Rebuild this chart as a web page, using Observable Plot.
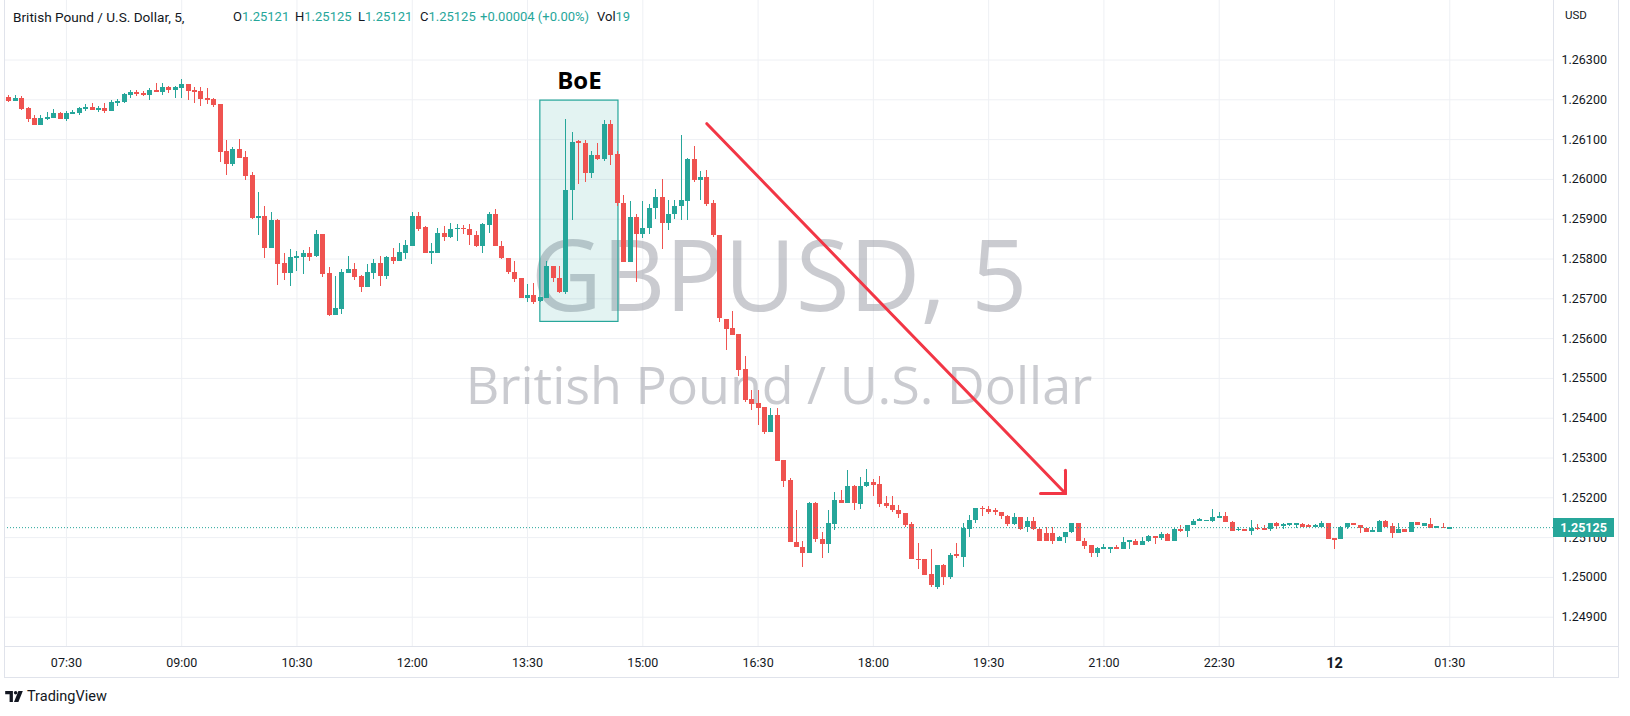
<!DOCTYPE html>
<html><head><meta charset="utf-8">
<script src="https://cdn.jsdelivr.net/npm/d3@7"></script>
<script src="https://cdn.jsdelivr.net/npm/@observablehq/plot@0.6"></script>
<style>
body{margin:0;background:#fff;font-family:Roboto,"Liberation Sans",sans-serif;color:#131722;}
#wrap{position:relative;width:1630px;height:716px;overflow:hidden;background:#fff;}
#wrap > svg{position:absolute;left:0;top:0;}
.g{color:#26a69a;}
</style></head><body><div id="wrap"></div>
<script>
// ---- data (GBPUSD, 5-minute candles) ----
const startTime = "2023-05-11T06:45:00Z";
const intervalMinutes = 5;
const opens = [1.26205,1.26196,1.26203,1.26178,1.26153,1.26136,1.26151,1.26153,1.26166,1.26151,
1.26164,1.26166,1.26176,1.26181,1.26173,1.26178,1.26171,1.26191,1.26193,1.26211,
1.26218,1.26216,1.26211,1.26223,1.26218,1.26231,1.26223,1.26228,1.26238,1.26223,
1.26221,1.26203,1.26201,1.26188,1.26071,1.26038,1.26076,1.26056,1.26011,1.25901,
1.25908,1.25826,1.25896,1.25788,1.25763,1.25801,1.25803,1.25813,1.25806,1.25861,
1.25763,1.25658,1.25673,1.25763,1.25773,1.25756,1.25728,1.25763,1.25788,1.25756,
1.25803,1.25793,1.25813,1.25831,1.25906,1.25880,1.25815,1.25815,1.25863,1.25855,
1.25875,1.25876,1.25875,1.25860,1.25831,1.25884,1.25913,1.25831,1.25801,1.25767,
1.25750,1.25701,1.25708,1.25694,1.25701,1.25780,1.25752,1.25716,1.25971,1.26094,
1.26090,1.26016,1.26061,1.26051,1.26138,1.26062,1.25940,1.25790,1.25905,1.25861,
1.25877,1.25927,1.25955,1.25890,1.25911,1.25933,1.25944,1.26050,1.25996,1.26004,
1.25940,1.25860,1.25648,1.25625,1.25611,1.25523,1.25446,1.25436,1.25427,1.25364,
1.25406,1.25294,1.25244,1.25088,1.25075,1.25059,1.25186,1.25096,1.25082,1.25134,
1.25194,1.25185,1.25228,1.25184,1.25228,1.25238,1.25234,1.25186,1.25181,1.25169,
1.25161,1.25134,1.25046,1.25044,1.25008,1.24975,1.25029,1.25000,1.25056,1.25051,
1.25120,1.25143,1.25174,1.25171,1.25167,1.25163,1.25153,1.25132,1.25150,1.25126,
1.25141,1.25120,1.25110,1.25110,1.25091,1.25100,1.25112,1.25135,1.25090,1.25079,
1.25061,1.25071,1.25071,1.25074,1.25071,1.25088,1.25091,1.25081,1.25090,1.25101,
1.25099,1.25108,1.25089,1.25121,1.25116,1.25130,1.25141,1.25141,1.25141,1.25149,
1.25153,1.25139,1.25118,1.25120,1.25116,1.25124,1.25122,1.25120,1.25135,1.25130,
1.25131,1.25131,1.25133,1.25129,1.25126,1.25126,1.25135,1.25097,1.25095,1.25125,
1.25135,1.25131,1.25124,1.25115,1.25114,1.25141,1.25128,1.25111,1.25120,1.25113,
1.25137,1.25130,1.25132,1.25124,1.25126,1.25121];
const highs = [1.26210,1.26210,1.26208,1.26181,1.26161,1.26160,1.26168,1.26176,1.26168,1.26171,
1.26173,1.26181,1.26188,1.26191,1.26183,1.26191,1.26198,1.26201,1.26216,1.26223,
1.26223,1.26221,1.26228,1.26241,1.26241,1.26233,1.26233,1.26251,1.26238,1.26231,
1.26231,1.26228,1.26203,1.26188,1.26098,1.26081,1.26101,1.26071,1.26018,1.25968,
1.25931,1.25916,1.25898,1.25813,1.25823,1.25818,1.25821,1.25828,1.25871,1.25861,
1.25778,1.25756,1.25773,1.25806,1.25788,1.25758,1.25786,1.25798,1.25806,1.25806,
1.25826,1.25838,1.25846,1.25918,1.25916,1.25881,1.25838,1.25877,1.25881,1.25890,
1.25886,1.25884,1.25886,1.25869,1.25890,1.25916,1.25925,1.25844,1.25802,1.25794,
1.25752,1.25735,1.25738,1.25703,1.25794,1.25780,1.25781,1.26150,1.26119,1.26098,
1.26098,1.26069,1.26090,1.26148,1.26148,1.26069,1.25960,1.25944,1.25911,1.25944,
1.25938,1.25975,1.26000,1.25946,1.25948,1.26111,1.26052,1.26083,1.26019,1.26023,
1.25946,1.25860,1.25648,1.25667,1.25611,1.25556,1.25469,1.25469,1.25427,1.25425,
1.25425,1.25294,1.25248,1.25167,1.25089,1.25188,1.25189,1.25114,1.25167,1.25213,
1.25219,1.25269,1.25231,1.25250,1.25271,1.25246,1.25254,1.25204,1.25204,1.25181,
1.25161,1.25139,1.25084,1.25046,1.25071,1.25031,1.25032,1.25060,1.25086,1.25135,
1.25155,1.25173,1.25178,1.25177,1.25172,1.25163,1.25156,1.25160,1.25150,1.25150,
1.25150,1.25125,1.25125,1.25125,1.25103,1.25112,1.25135,1.25135,1.25097,1.25079,
1.25075,1.25083,1.25074,1.25079,1.25100,1.25093,1.25095,1.25101,1.25105,1.25103,
1.25114,1.25110,1.25122,1.25130,1.25131,1.25145,1.25147,1.25144,1.25170,1.25163,
1.25163,1.25141,1.25125,1.25120,1.25143,1.25133,1.25131,1.25135,1.25138,1.25135,
1.25135,1.25133,1.25135,1.25133,1.25133,1.25141,1.25135,1.25097,1.25128,1.25135,
1.25135,1.25131,1.25124,1.25125,1.25143,1.25143,1.25135,1.25135,1.25120,1.25137,
1.25137,1.25135,1.25147,1.25127,1.25135,1.25125];
const lows = [1.26192,1.26196,1.26173,1.26144,1.26136,1.26136,1.26148,1.26153,1.26151,1.26146,
1.26164,1.26161,1.26171,1.26173,1.26168,1.26166,1.26171,1.26183,1.26191,1.26203,
1.26208,1.26208,1.26198,1.26218,1.26211,1.26216,1.26203,1.26203,1.26198,1.26191,
1.26183,1.26188,1.26181,1.26043,1.26011,1.26033,1.26053,1.25996,1.25898,1.25858,
1.25801,1.25826,1.25733,1.25746,1.25731,1.25768,1.25761,1.25793,1.25803,1.25753,
1.25656,1.25658,1.25661,1.25763,1.25746,1.25716,1.25728,1.25748,1.25731,1.25748,
1.25786,1.25793,1.25798,1.25831,1.25868,1.25815,1.25787,1.25815,1.25844,1.25852,
1.25844,1.25861,1.25835,1.25830,1.25815,1.25865,1.25831,1.25798,1.25761,1.25741,
1.25701,1.25691,1.25686,1.25691,1.25701,1.25741,1.25713,1.25710,1.25897,1.25986,
1.25991,1.26002,1.26048,1.26046,1.26036,1.25931,1.25790,1.25790,1.25740,1.25852,
1.25861,1.25898,1.25825,1.25871,1.25900,1.25896,1.25896,1.25991,1.25948,1.25931,
1.25855,1.25640,1.25571,1.25609,1.25504,1.25439,1.25419,1.25381,1.25359,1.25364,
1.25292,1.25225,1.25088,1.25075,1.25025,1.25059,1.25088,1.25048,1.25059,1.25117,
1.25185,1.25185,1.25167,1.25171,1.25225,1.25204,1.25175,1.25173,1.25163,1.25148,
1.25125,1.25044,1.25021,1.25006,1.24975,1.24970,1.24980,1.24995,1.25048,1.25025,
1.25101,1.25135,1.25152,1.25158,1.25155,1.25145,1.25128,1.25131,1.25118,1.25112,
1.25118,1.25091,1.25089,1.25082,1.25089,1.25085,1.25110,1.25090,1.25069,1.25049,
1.25051,1.25071,1.25059,1.25069,1.25071,1.25069,1.25081,1.25081,1.25088,1.25083,
1.25093,1.25089,1.25089,1.25114,1.25101,1.25130,1.25141,1.25141,1.25137,1.25149,
1.25139,1.25115,1.25116,1.25115,1.25106,1.25118,1.25120,1.25115,1.25120,1.25121,
1.25128,1.25123,1.25126,1.25125,1.25126,1.25126,1.25096,1.25069,1.25095,1.25120,
1.25130,1.25111,1.25114,1.25115,1.25114,1.25125,1.25099,1.25111,1.25113,1.25113,
1.25130,1.25130,1.25124,1.25122,1.25122,1.25121];
const closes = [1.26196,1.26203,1.26176,1.26151,1.26136,1.26153,1.26156,1.26166,1.26151,1.26166,
1.26168,1.26178,1.26181,1.26173,1.26178,1.26171,1.26193,1.26196,1.26213,1.26218,
1.26213,1.26211,1.26223,1.26218,1.26231,1.26223,1.26231,1.26238,1.26221,1.26218,
1.26201,1.26198,1.26186,1.26068,1.26038,1.26076,1.26053,1.26008,1.25901,1.25908,
1.25826,1.25896,1.25786,1.25763,1.25803,1.25806,1.25813,1.25803,1.25861,1.25761,
1.25658,1.25676,1.25766,1.25773,1.25753,1.25728,1.25766,1.25788,1.25756,1.25803,
1.25793,1.25816,1.25833,1.25906,1.25873,1.25815,1.25818,1.25863,1.25855,1.25875,
1.25876,1.25873,1.25859,1.25831,1.25886,1.25913,1.25831,1.25801,1.25766,1.25748,
1.25701,1.25708,1.25691,1.25703,1.25780,1.25750,1.25716,1.25973,1.26092,1.26090,
1.26015,1.26061,1.26051,1.26138,1.26061,1.25940,1.25790,1.25905,1.25861,1.25877,
1.25927,1.25955,1.25890,1.25911,1.25931,1.25946,1.26050,1.25996,1.26004,1.25938,
1.25858,1.25650,1.25624,1.25609,1.25521,1.25444,1.25434,1.25424,1.25364,1.25406,
1.25292,1.25242,1.25088,1.25075,1.25059,1.25186,1.25094,1.25082,1.25136,1.25194,
1.25185,1.25228,1.25185,1.25228,1.25238,1.25232,1.25184,1.25179,1.25167,1.25159,
1.25131,1.25044,1.25042,1.25006,1.24980,1.25029,1.25000,1.25056,1.25053,1.25122,
1.25143,1.25173,1.25170,1.25164,1.25162,1.25152,1.25132,1.25150,1.25120,1.25141,
1.25120,1.25091,1.25091,1.25091,1.25100,1.25112,1.25135,1.25090,1.25078,1.25061,
1.25072,1.25074,1.25074,1.25069,1.25088,1.25091,1.25081,1.25091,1.25103,1.25099,
1.25108,1.25089,1.25121,1.25116,1.25131,1.25141,1.25143,1.25142,1.25150,1.25153,
1.25139,1.25116,1.25119,1.25116,1.25124,1.25120,1.25120,1.25135,1.25128,1.25132,
1.25133,1.25133,1.25126,1.25126,1.25129,1.25135,1.25096,1.25095,1.25126,1.25135,
1.25130,1.25122,1.25114,1.25117,1.25141,1.25125,1.25111,1.25120,1.25113,1.25137,
1.25130,1.25133,1.25124,1.25126,1.25122,1.25125];

const timeTicks = ["2023-05-11T07:30Z","2023-05-11T09:00Z","2023-05-11T10:30Z","2023-05-11T12:00Z",
  "2023-05-11T13:30Z","2023-05-11T15:00Z","2023-05-11T16:30Z","2023-05-11T18:00Z","2023-05-11T19:30Z",
  "2023-05-11T21:00Z","2023-05-11T22:30Z","2023-05-12T01:30Z"];
const dayTicks = ["2023-05-12T00:00Z"];
const dayTickLabels = ["12"];
const priceTicks = [1.249,1.250,1.251,1.252,1.253,1.254,1.255,1.256,1.257,1.258,1.259,1.260,1.261,1.262,1.263];
const lastPrice = 1.25125;
const legendValues = ["1.25121","1.25125","1.25121","1.25125","+0.00004 (+0.00%)","19"];

// annotations
const boeLabel = ["BoE"];
const boeStart = ["2023-05-11T13:40Z"], boeEnd = ["2023-05-11T14:41Z"];
const boeLow = [1.25642], boeHigh = [1.26198];
const arrowTimes = ["2023-05-11T15:50Z","2023-05-11T20:30Z"];
const arrowPrices = [1.26140, 1.25211];
const arrowHeadTimes = ["2023-05-11T20:10:30Z","2023-05-11T20:30Z"];
const arrowHeadPrices = [1.25211, 1.25269];

// ---- build ----
const GREEN = "#26a69a", RED = "#ef5350";
const t0 = Date.parse(startTime), step = intervalMinutes * 60000;
const candles = opens.map((o, i) => ({
  t: new Date(t0 + i * step), o, h: highs[i], l: lows[i], c: closes[i],
  col: closes[i] >= o ? GREEN : RED
}));
const visibleBars = [-0.67, 241.2];
const xDomain = visibleBars.map(b => new Date(t0 + b * step));
const yDomain = [1.248264, 1.264495];
const P = d => new Date(d);

const boe = [{x1: P(boeStart[0]), x2: P(boeEnd[0]), y1: boeLow[0], y2: boeHigh[0]}];
const arrow = [{x1: P(arrowTimes[0]), y1: arrowPrices[0], x2: P(arrowTimes[1]), y2: arrowPrices[1]}];
const heads = arrowHeadTimes.map((t, i) => ({x1: P(t), y1: arrowHeadPrices[i], x2: P(arrowTimes[1]), y2: arrowPrices[1]}));

const plot = Plot.plot({
  width: 1630, height: 716,
  marginLeft: 4, marginRight: 77, marginTop: 0, marginBottom: 70,
  style: {background: "transparent", fontFamily: "Roboto, 'Liberation Sans', sans-serif", color: "#131722"},
  x: {type: "utc", domain: xDomain, axis: null},
  y: {domain: yDomain, axis: null},
  color: {type: "identity"},
  marks: [
    Plot.ruleX(timeTicks.concat(dayTicks).map(P), {stroke: "#eef0f4"}),
    Plot.ruleY(priceTicks, {stroke: "#eef0f4"}),
    Plot.text(["GBPUSD, 5"], {frameAnchor: "top", lineAnchor: "bottom", dy: 310, fontSize: 98,
      fontFamily: "'Open Sans', sans-serif", fill: "#9598a1", fillOpacity: 0.5}),
    Plot.text(["British Pound / U.S. Dollar"], {frameAnchor: "top", lineAnchor: "bottom", dy: 403, fontSize: 52,
      fontFamily: "'Open Sans', sans-serif", fill: "#9598a1", fillOpacity: 0.5}),
    Plot.rect(boe, {x1: "x1", x2: "x2", y1: "y1", y2: "y2", fill: GREEN, fillOpacity: 0.13, stroke: GREEN, strokeWidth: 1.2}),
    Plot.ruleX(candles, {x: "t", y1: "l", y2: "h", stroke: "col", strokeWidth: 1, shapeRendering: "crispEdges"}),
    Plot.ruleX(candles, {x: "t", y1: d => Math.min(d.o, d.c) - (Math.abs(d.o - d.c) < 0.00003 ? 0.000013 : 0),
      y2: d => Math.max(d.o, d.c) + (Math.abs(d.o - d.c) < 0.00003 ? 0.000013 : 0),
      stroke: "col", strokeWidth: 5, shapeRendering: "crispEdges"}),
    Plot.ruleY([lastPrice], {stroke: GREEN, strokeDasharray: "1,2", strokeWidth: 1}),
    Plot.link(arrow, {x1: "x1", y1: "y1", x2: "x2", y2: "y2", stroke: "#f23645", strokeWidth: 3, strokeLinecap: "round"}),
    Plot.link(heads, {x1: "x1", y1: "y1", x2: "x2", y2: "y2", stroke: "#f23645", strokeWidth: 3, strokeLinecap: "round"}),
    Plot.text(boeLabel, {x: () => new Date((boe[0].x1.getTime() + boe[0].x2.getTime()) / 2), y: () => boeHigh[0],
      dy: -12, lineAnchor: "bottom", fontSize: 24, fontWeight: "bold", fill: "#000",
      fontFamily: "'Open Sans', sans-serif"}),
    Plot.axisY(priceTicks, {anchor: "right", tickSize: 0, tickPadding: 8, tickFormat: d => d.toFixed(5),
      fontSize: 12.5, fill: "#131722", label: null}),
    Plot.axisX(timeTicks.map(P), {anchor: "bottom", tickSize: 0, tickPadding: 12, tickFormat: d3.utcFormat("%H:%M"),
      fontSize: 12.5, fill: "#131722", label: null}),
    Plot.axisX(dayTicks.map(P), {anchor: "bottom", tickSize: 0, tickPadding: 11, tickFormat: (d, i) => dayTickLabels[i],
      fontSize: 14.5, fontWeight: "bold", fill: "#131722", label: null})
  ]
});

const wrap = document.getElementById("wrap");
wrap.appendChild(plot);

function add(html, css) {
  const d = document.createElement("div");
  d.innerHTML = html;
  d.style.cssText = "position:absolute;" + css;
  wrap.appendChild(d);
  return d;
}
// pane borders
add("", "left:4px;top:0;width:1px;height:677px;background:#e0e3eb;");
add("", "left:1553px;top:0;width:1px;height:677px;background:#e0e3eb;");
add("", "left:1618px;top:0;width:1px;height:677px;background:#e0e3eb;");
add("", "left:4px;top:646px;width:1615px;height:1px;background:#e0e3eb;");
add("", "left:4px;top:677px;width:1615px;height:1px;background:#e0e3eb;");

// header legend
add("British Pound / U.S. Dollar, 5,", "left:13px;top:9px;font-size:13.6px;line-height:16px;white-space:nowrap;");
const lk = ["O", "H", "L", "C", "", "Vol"];
const lx = [233, 295, 358, 420, 480, 597];
legendValues.forEach((v, i) => add(lk[i] + '<span class="g">' + v + "</span>",
  `left:${lx[i]}px;top:9px;font-size:13px;line-height:16px;white-space:nowrap;`));

// price-axis header and last price label
add("USD", "left:1565px;top:8px;font-size:11.5px;line-height:14px;");
const yLast = plot.scale("y").apply(lastPrice);
add(lastPrice.toFixed(5), `left:1553px;top:${yLast - 9.5}px;width:61px;height:19px;background:${GREEN};color:#fff;
  font-weight:bold;font-size:12.5px;line-height:19px;text-align:center;`);

// TradingView footer
add('<svg width="18" height="11" viewBox="0 0 16 10" style="display:inline-block;vertical-align:-1px;margin-right:4px">' +
    '<path d="M0 0H7V10H4V3H0Z" fill="#131722"/><circle cx="9.5" cy="1.6" r="1.6" fill="#131722"/>' +
    '<path d="M12 0H16L12 10H8Z" fill="#131722"/></svg>TradingView',
  "left:5px;top:688px;font-size:14.5px;line-height:17px;white-space:nowrap;");
</script></body></html>
